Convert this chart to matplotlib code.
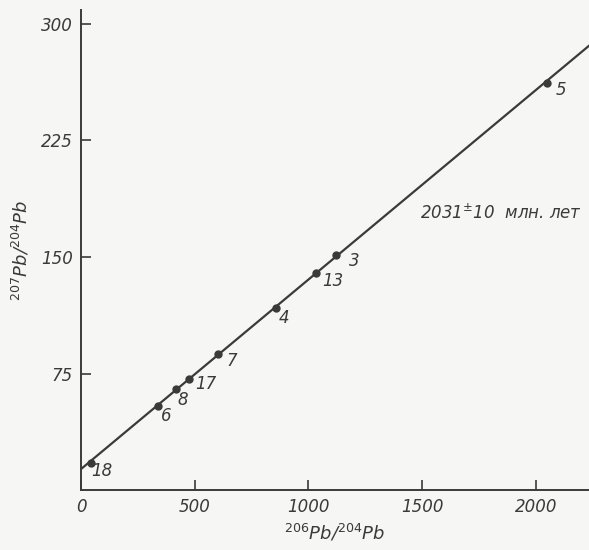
import matplotlib.pyplot as plt
import numpy as np

# sample data
sample_ids = ['18', '6', '8', '17', '7', '4', '13', '3', '5']
pb206_204 = [44, 338, 418, 475, 602, 857, 1033, 1121, 2048]
pb207_204 = [17.4, 54, 65, 71.6, 87.7, 117, 140, 151, 262]

# fitted isochron
intercept = 13.5
slope = 0.122

x_ticks = [0, 500, 1000, 1500, 2000]
y_ticks = [75, 150, 225, 300]

ink = '#3a3a3a'
paper = '#f6f6f4'

plt.rcParams['font.family'] = ['DejaVu Sans']
plt.rcParams['mathtext.fontset'] = 'dejavusans'

fig = plt.figure(figsize=(5.89, 5.5), dpi=100, facecolor=paper)
ax = fig.add_axes([0.1375, 0.109, 0.8625, 0.873])
ax.set_facecolor(paper)

xmax, ymax = 2233, 309
ax.set_xlim(0, xmax)
ax.set_ylim(0, ymax)

xl = np.array([0, xmax])
ax.plot(xl, intercept + slope * xl, color=ink, lw=1.6, clip_on=True)
ax.plot(pb206_204, pb207_204, 'o', color=ink, ms=5)

# point labels, offset down-right from each dot (in points)
offsets = {'18': (8, -6), '6': (6, -7), '8': (5, -8), '17': (12, -4),
           '7': (10, -5), '4': (6, -7), '13': (12, -6), '3': (13, -4),
           '5': (10, -5)}
for sid, x, y in zip(sample_ids, pb206_204, pb207_204):
    ax.annotate(sid, (x, y), xytext=offsets[sid], textcoords='offset points',
                ha='center', va='center', fontsize=12, style='italic',
                color=ink)

ax.text(1846, 178, '2031$^{\\pm}$10  млн. лет', fontsize=12, style='italic',
        color=ink, ha='center', va='center')

for s in ['top', 'right']:
    ax.spines[s].set_visible(False)
for s in ['left', 'bottom']:
    ax.spines[s].set_color(ink)
    ax.spines[s].set_linewidth(1.4)

ax.set_xticks(x_ticks)
ax.set_yticks(y_ticks)
ax.tick_params(direction='in', length=7, width=1.2, color=ink,
               labelcolor=ink, labelsize=12, pad=6)
for lab in ax.get_xticklabels() + ax.get_yticklabels():
    lab.set_style('italic')

ax.set_xlabel('$^{206}$Pb/$^{204}$Pb', fontsize=13, style='italic',
              color=ink, labelpad=4)
ax.set_ylabel('$^{207}$Pb/$^{204}$Pb', fontsize=13, style='italic',
              color=ink, labelpad=7)

fig.savefig('out.png', dpi=100, facecolor=paper)
